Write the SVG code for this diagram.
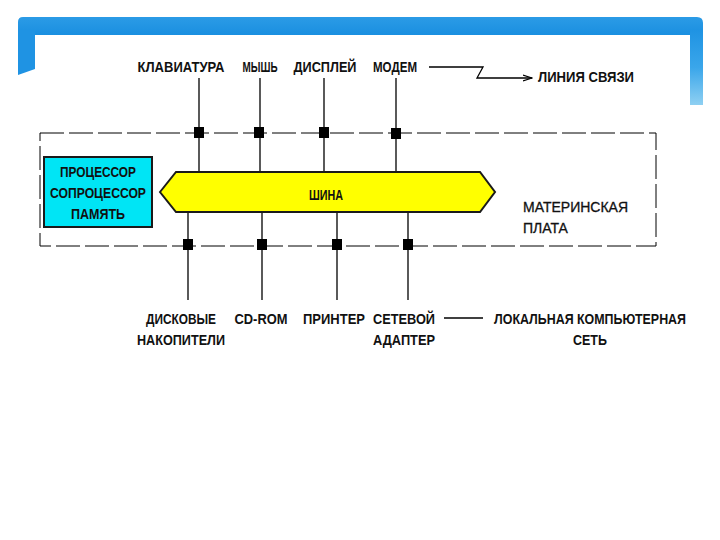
<svg xmlns="http://www.w3.org/2000/svg" width="720" height="540" viewBox="0 0 720 540">
<defs>
<linearGradient id="rleg" x1="0" y1="0" x2="0" y2="1">
<stop offset="0" stop-color="#1f93e3"/>
<stop offset="0.5" stop-color="#3aa6ea"/>
<stop offset="1" stop-color="#8fd0f2"/>
</linearGradient>
<linearGradient id="top" x1="0" y1="0" x2="0" y2="1">
<stop offset="0" stop-color="#2b9be6"/>
<stop offset="1" stop-color="#1a8fe0"/>
</linearGradient>
<marker id="arr" markerWidth="10" markerHeight="8" refX="9" refY="4" orient="auto" markerUnits="userSpaceOnUse">
<path d="M0,1 L9,4 L0,7" fill="none" stroke="#000" stroke-width="1.2"/>
</marker>
</defs>
<style>
.lbl{font-family:"Liberation Sans",Arial,sans-serif;font-weight:bold;font-size:14.5px;fill:#111;text-anchor:middle}
.plain{font-family:"Liberation Sans",Arial,sans-serif;font-size:14px;fill:#111;stroke:#111;stroke-width:0.3}
.ln{stroke:#000;stroke-width:1.3;fill:none}
.sq{fill:#000}
</style>
<rect width="720" height="540" fill="#fff"/>
<g id="frame">
<path d="M18,22 Q18,17 23,17 L697,17 Q703,17 703,23 L703,35 L18,35 Z" fill="url(#top)"/>
<path d="M18,30 L35,30 L35,69 L18,75 Z" fill="#1f93e3"/>
<path d="M690,30 L703,30 L703,105 L690,105 Z" fill="url(#rleg)"/>
</g>
<g id="motherboard">
<rect x="40" y="133" width="616" height="113" fill="none" stroke="#000" stroke-width="1" stroke-dasharray="24 5"/>
<text class="plain" x="523" y="212">МАТЕРИНСКАЯ</text>
<text class="plain" x="523" y="233">ПЛАТА</text>
</g>
<g id="connectors">
<line class="ln" x1="199" y1="78" x2="199" y2="172"/>
<line class="ln" x1="260" y1="78" x2="260" y2="172"/>
<line class="ln" x1="324" y1="78" x2="324" y2="172"/>
<line class="ln" x1="396" y1="78" x2="396" y2="172"/>
<rect class="sq" x="194" y="127" width="10" height="11"/>
<rect class="sq" x="254" y="127" width="10" height="11"/>
<rect class="sq" x="319" y="127" width="10" height="11"/>
<rect class="sq" x="391" y="128" width="10" height="11"/>
<line class="ln" x1="188" y1="212" x2="188" y2="300"/>
<line class="ln" x1="262" y1="212" x2="262" y2="300"/>
<line class="ln" x1="337" y1="212" x2="337" y2="300"/>
<line class="ln" x1="408" y1="212" x2="408" y2="300"/>
<rect class="sq" x="183" y="239" width="10" height="11"/>
<rect class="sq" x="257" y="239" width="10" height="11"/>
<rect class="sq" x="332" y="239" width="10" height="11"/>
<rect class="sq" x="403" y="239" width="10" height="11"/>
<polyline class="ln" points="429,67 483,67 477,78 532,78" marker-end="url(#arr)"/>
<line class="ln" x1="444" y1="318" x2="483" y2="318"/>
</g>
<g id="cpu">
<rect x="44" y="157" width="108" height="70" fill="#00e5f5" stroke="#1a1a1a" stroke-width="2"/>
<text class="lbl" x="98" y="177" textLength="76" lengthAdjust="spacingAndGlyphs">ПРОЦЕССОР</text>
<text class="lbl" x="98" y="198" textLength="96" lengthAdjust="spacingAndGlyphs">СОПРОЦЕССОР</text>
<text class="lbl" x="98" y="219" textLength="54" lengthAdjust="spacingAndGlyphs">ПАМЯТЬ</text>
</g>
<g id="bus">
<polygon points="160,192 176,172 480,172 495,192 480,212 176,212" fill="#ffff00" stroke="#1a1a1a" stroke-width="2"/>
<text class="lbl" x="326" y="200" textLength="34" lengthAdjust="spacingAndGlyphs">ШИНА</text>
</g>
<g id="keyboard"><text class="lbl" x="181" y="72" textLength="87" lengthAdjust="spacingAndGlyphs">КЛАВИАТУРА</text></g>
<g id="mouse"><text class="lbl" x="260" y="72" textLength="35" lengthAdjust="spacingAndGlyphs">МЫШЬ</text></g>
<g id="display"><text class="lbl" x="325" y="72" textLength="63" lengthAdjust="spacingAndGlyphs">ДИСПЛЕЙ</text></g>
<g id="modem"><text class="lbl" x="395" y="72" textLength="44" lengthAdjust="spacingAndGlyphs">МОДЕМ</text></g>
<g id="line"><text class="lbl" x="586" y="82" textLength="96" lengthAdjust="spacingAndGlyphs">ЛИНИЯ СВЯЗИ</text></g>
<g id="disks">
<text class="lbl" x="181" y="324" textLength="70" lengthAdjust="spacingAndGlyphs">ДИСКОВЫЕ</text>
<text class="lbl" x="181" y="345" textLength="88" lengthAdjust="spacingAndGlyphs">НАКОПИТЕЛИ</text>
</g>
<g id="cdrom"><text class="lbl" x="261" y="324" textLength="53" lengthAdjust="spacingAndGlyphs">CD-ROM</text></g>
<g id="printer"><text class="lbl" x="334" y="324" textLength="62" lengthAdjust="spacingAndGlyphs">ПРИНТЕР</text></g>
<g id="adapter">
<text class="lbl" x="404" y="324" textLength="62" lengthAdjust="spacingAndGlyphs">СЕТЕВОЙ</text>
<text class="lbl" x="404" y="345" textLength="62" lengthAdjust="spacingAndGlyphs">АДАПТЕР</text>
</g>
<g id="lan">
<text class="lbl" x="590" y="324" textLength="192" lengthAdjust="spacingAndGlyphs">ЛОКАЛЬНАЯ КОМПЬЮТЕРНАЯ</text>
<text class="lbl" x="590" y="345" textLength="34" lengthAdjust="spacingAndGlyphs">СЕТЬ</text>
</g>
</svg>
